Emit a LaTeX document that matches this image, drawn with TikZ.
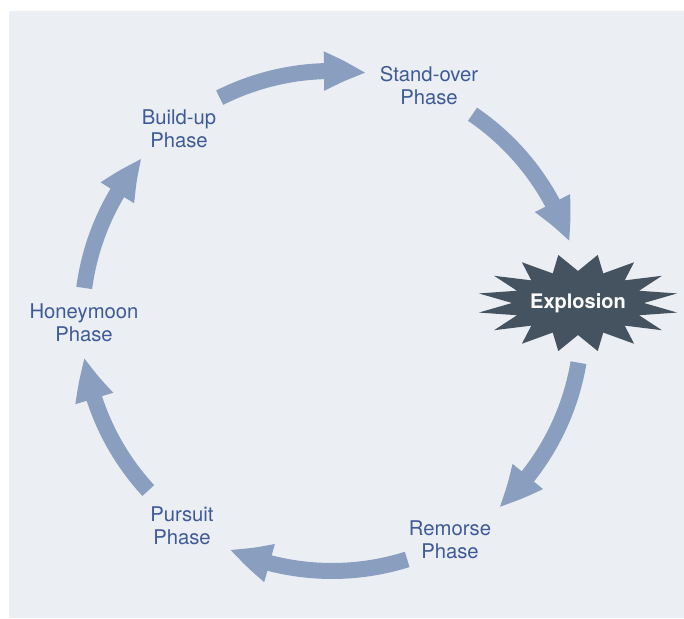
\documentclass[tikz,border=0pt]{standalone}
\usepackage{fontspec}
\setmainfont{TeX Gyre Heros}
\usepackage{tikz}
\usetikzlibrary{arrows.meta, bending}
\definecolor{panel}{HTML}{EBEEF3}
\definecolor{cyclearrow}{HTML}{8A9FBF}
\definecolor{phasetext}{HTML}{3E5A97}
\definecolor{burst}{HTML}{44535F}

\begin{document}
\begin{tikzpicture}[x=0.75pt, y=0.75pt,
  phase/.style = {align=center, text=phasetext, inner sep=0pt,
    font=\fontsize{15.2}{17.25}\selectfont},
  turn/.style = {cyclearrow, line width=12pt,
    -{Triangle[length=32pt, width=27pt, bend]}}]
  \useasboundingbox (0,0) rectangle (684,618);
  \fill[panel] (9,0) rectangle (684,607);
  \coordinate (hub) at (332,297);
  \coordinate (boom) at (578,315);

  % the phases
  \node[phase] (standover) at (429,532) {Stand-over\\Phase};
  \node[phase] (remorse) at (450,78) {Remorse\\Phase};
  \node[phase] (pursuit) at (182,92) {Pursuit\\Phase};
  \node[phase] (honeymoon) at (84,295) {Honeymoon\\Phase};
  \node[phase] (buildup) at (179,489) {Build-up\\Phase};

  % explosion star
  \fill[burst, shift={(boom)}] plot[samples at={0,...,31}, variable=\k]
    ({(mod(\k,2)==0 ? 101 : 66)*cos(11.25+11.25*\k)},
     {(mod(\k,2)==0 ? 49 : 32)*sin(11.25+11.25*\k)}) -- cycle;
  \node[text=white, font=\bfseries\fontsize{15}{18}\selectfont] (explosion) at (boom) {Explosion};

  % arrows round the cycle
  \draw[turn] (hub) ++(116.7:250) arc[start angle=116.7, end angle=82.1, radius=250];
  \draw[turn] (hub) ++(55.8:250) arc[start angle=55.8, end angle=18.4, radius=250];
  \draw[turn] (hub) ++(-9.6:250) arc[start angle=-9.6, end angle=-48.2, radius=250];
  \draw[turn] (hub) ++(-72.5:250) arc[start angle=-72.5, end angle=-114.2, radius=250];
  \draw[turn] (hub) ++(-137.3:250) arc[start angle=-137.3, end angle=-171.7, radius=250];
  \draw[turn] (hub) ++(172.4:250) arc[start angle=172.4, end angle=139.4, radius=250];
\end{tikzpicture}
\end{document}
